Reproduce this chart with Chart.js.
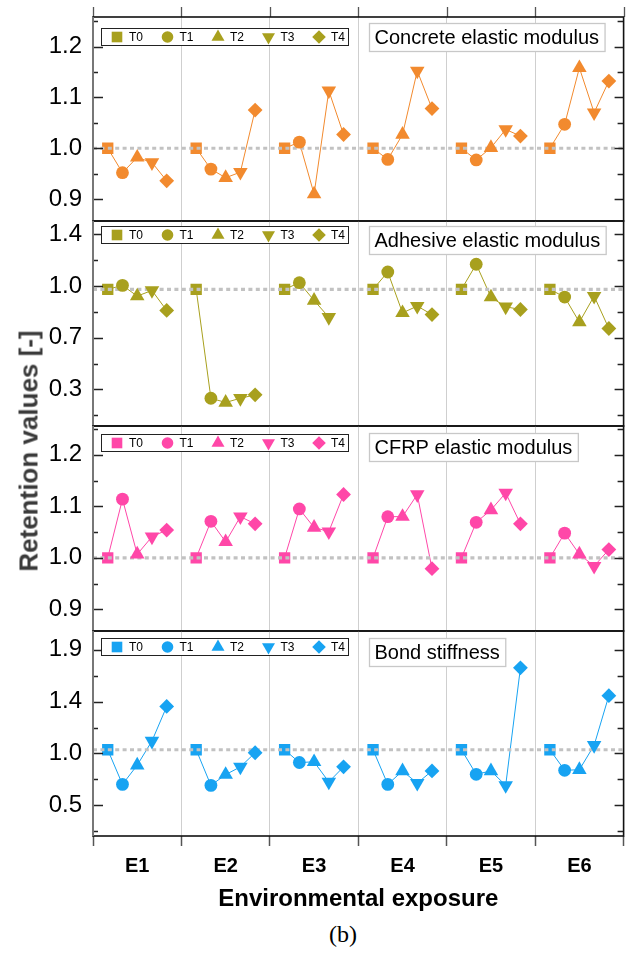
<!DOCTYPE html>
<html>
<head>
<meta charset="utf-8">
<script src="https://cdn.jsdelivr.net/npm/chart.js@4.4.1/dist/chart.umd.min.js"></script>
<style>
  body { margin: 0; background: #fff; width: 632px; height: 956px; position: relative; overflow: hidden; font-family: "Liberation Sans", Arial, sans-serif; }
  canvas { position: absolute; left: 0; }
  #ytitle { position: absolute; left: 29px; top: 451px; transform: translate(-50%, -50%) rotate(-90deg); font-weight: bold; font-size: 26px; color: #3a3a3a; white-space: nowrap; }
  #caption { position: absolute; left: 343px; top: 934px; transform: translate(-50%, -50%); font-family: "Liberation Serif", "Times New Roman", serif; font-size: 24px; color: #000; }
</style>
</head>
<body>
<canvas id="c0"></canvas>
<canvas id="c1"></canvas>
<canvas id="c2"></canvas>
<canvas id="c3"></canvas>
<div id="ytitle">Retention values [-]</div>
<div id="caption">(b)</div>
<script>
const categories = ["E1", "E2", "E3", "E4", "E5", "E6"];
const seriesNames = ["T0", "T1", "T2", "T3", "T4"];

// concrete elastic modulus (E1..E6)
const concreteT0 = [1.000, 1.000, 1.000, 1.000, 1.000, 1.000];
const concreteT1 = [0.952, 0.959, 1.012, 0.978, 0.977, 1.047];
const concreteT2 = [0.982, 0.942, 0.910, 1.027, 1.001, 1.158];
const concreteT3 = [0.972, 0.953, 1.113, 1.152, 1.037, 1.070];
const concreteT4 = [0.936, 1.075, 1.027, 1.078, 1.024, 1.132];
const concreteTicks = [0.9, 1.0, 1.1, 1.2];

// adhesive elastic modulus
const adhesiveT0 = [1.010, 1.010, 1.010, 1.010, 1.010, 1.010];
const adhesiveT1 = [1.038, 0.237, 1.057, 1.133, 1.188, 0.955];
const adhesiveT2 = [0.962, 0.207, 0.931, 0.843, 0.955, 0.777];
const adhesiveT3 = [1.002, 0.237, 0.812, 0.891, 0.886, 0.962];
const adhesiveT4 = [0.860, 0.261, null, 0.831, 0.867, 0.732];
const adhesiveTicks = [0.3, 0.6667, 1.0333, 1.4];

// CFRP elastic modulus
const cfrpT0 = [1.000, 1.000, 1.000, 1.000, 1.000, 1.000];
const cfrpT1 = [1.114, 1.071, 1.095, 1.080, 1.069, 1.048];
const cfrpT2 = [1.007, 1.031, 1.059, 1.080, 1.093, 1.007];
const cfrpT3 = [1.041, 1.080, 1.051, 1.123, 1.126, 0.984];
const cfrpT4 = [1.054, 1.066, 1.123, 0.979, 1.066, 1.016];
const cfrpTicks = [0.9, 1.0, 1.1, 1.2];

// bond stiffness
const bondT0 = [1.000, 1.000, 1.000, 1.000, 1.000, 1.000];
const bondT1 = [0.688, 0.679, 0.885, 0.688, 0.779, 0.815];
const bondT2 = [0.861, 0.776, 0.891, 0.809, 0.809, 0.820];
const bondT3 = [1.079, 0.846, 0.710, 0.699, 0.679, 1.040];
const bondT4 = [1.390, 0.973, 0.846, 0.809, 1.738, 1.487];
const bondTicks = [0.5, 0.9667, 1.4333, 1.9];

const refValues = [1.0, 1.01, 1.0, 1.0];

// x position of T0..T4 inside each group (group width = 1)
const offsets = [-2 / 6, -1 / 6, 0, 1 / 6, 2 / 6];
const xTickValues = [0.5, 1, 1.5, 2, 2.5, 3, 3.5, 4, 4.5, 5, 5.5, 6, 6.5];

const markerStyles = ["rect", "circle", "triangle", "triangle", "rectRot"];
const markerRot = [0, 0, 0, 180, 0];
const markerSize = [8, 6.4, 8.4, 8.4, 7.4];
const legendSize = [7.5, 5.8, 7.5, 7.5, 6.8];

const FONT = '"Liberation Sans", Arial, sans-serif';

const panels = [
  { id: "c0", top: 17, bottom: 221, color: "#F28A2E", legendColor: "#A8A01E", title: "Concrete elastic modulus",
    series: [concreteT0, concreteT1, concreteT2, concreteT3, concreteT4], ticks: concreteTicks, min: 0.857, max: 1.258,
    legendDy: 11, titleDy: 6, topTicks: true },
  { id: "c1", top: 221, bottom: 426, color: "#A8A01E", legendColor: "#A8A01E", title: "Adhesive elastic modulus",
    series: [adhesiveT0, adhesiveT1, adhesiveT2, adhesiveT3, adhesiveT4], ticks: adhesiveTicks, min: 0.04, max: 1.495,
    legendDy: 5, titleDy: 5, topTicks: false },
  { id: "c2", top: 426, bottom: 631, color: "#FF47A8", legendColor: "#FF47A8", title: "CFRP elastic modulus",
    series: [cfrpT0, cfrpT1, cfrpT2, cfrpT3, cfrpT4], ticks: cfrpTicks, min: 0.858, max: 1.256,
    legendDy: 8, titleDy: 7, topTicks: false },
  { id: "c3", top: 631, bottom: 836, color: "#17A3F2", legendColor: "#17A3F2", title: "Bond stiffness",
    series: [bondT0, bondT1, bondT2, bondT3, bondT4], ticks: bondTicks, min: 0.223, max: 2.07,
    legendDy: 7, titleDy: 7, topTicks: false }
];

function isBoundary(v) {
  return v !== undefined && !Number.isInteger(v);
}

function drawMarker(ctx, k, r, x, y) {
  if (Chart.helpers && Chart.helpers.drawPoint) {
    Chart.helpers.drawPoint(ctx, { pointStyle: markerStyles[k], rotation: markerRot[k], radius: r, borderWidth: 0 }, x, y);
  } else {
    ctx.beginPath(); ctx.arc(x, y, r, 0, Math.PI * 2); ctx.fill();
  }
}

const panelDeco = {
  id: "panelDeco",
  afterDraw(chart, args, o) {
    const { ctx, chartArea: a, scales: { x, y } } = chart;
    ctx.save();

    // inward ticks on the left and right edges
    const major = y.ticks.map(t => t.value);
    const step = major[1] - major[0];
    const minor = [];
    for (let v = major[0] - step / 2; v <= y.max + 1e-9; v += step) {
      if (v >= y.min) minor.push(v);
    }
    ctx.strokeStyle = "#222";
    ctx.lineWidth = 1.3;
    ctx.beginPath();
    major.forEach(v => {
      const py = Math.round(y.getPixelForValue(v)) + 0.5;
      ctx.moveTo(a.left, py); ctx.lineTo(a.left + 10, py);
      ctx.moveTo(a.right, py); ctx.lineTo(a.right - 9, py);
    });
    minor.forEach(v => {
      const py = Math.round(y.getPixelForValue(v)) + 0.5;
      ctx.moveTo(a.left, py); ctx.lineTo(a.left + 5, py);
      ctx.moveTo(a.right, py); ctx.lineTo(a.right - 6, py);
    });
    ctx.stroke();

    if (o.topTicks) {
      ctx.strokeStyle = "#555";
      ctx.beginPath();
      xTickValues.filter(isBoundary).forEach(v => {
        const px = Math.round(x.getPixelForValue(v)) + 0.5;
        ctx.moveTo(px, a.top); ctx.lineTo(px, a.top - 10);
      });
      ctx.stroke();
    }

    // frame
    ctx.strokeStyle = "#111";
    ctx.lineWidth = 1.6;
    ctx.strokeRect(a.left, a.top, a.right - a.left, a.bottom - a.top);
    ctx.strokeStyle = "#777";
    ctx.lineWidth = 2;
    ctx.beginPath(); ctx.moveTo(a.left, a.top); ctx.lineTo(a.left, a.bottom); ctx.stroke();

    // legend box
    const lx = a.left + 8, ly = a.top + o.legendDy, lw = 247, lh = 17;
    ctx.fillStyle = "#fff";
    ctx.fillRect(lx, ly, lw, lh);
    ctx.strokeStyle = "#222";
    ctx.lineWidth = 1;
    ctx.strokeRect(lx + 0.5, ly + 0.5, lw, lh);
    ctx.font = "12px " + FONT;
    ctx.textBaseline = "middle";
    ctx.textAlign = "left";
    seriesNames.forEach((name, k) => {
      const cx = lx + 16 + k * 50.5, cy = ly + lh / 2 + 0.5;
      ctx.fillStyle = o.legendColor;
      ctx.strokeStyle = o.legendColor;
      drawMarker(ctx, k, legendSize[k], cx, cy);
      ctx.fillStyle = "#000";
      ctx.fillText(name, cx + 12, cy + 0.5);
    });

    // title box
    ctx.font = "20px " + FONT;
    const tw = ctx.measureText(o.title).width;
    const tx = a.left + 276, ty = a.top + o.titleDy, th = 28;
    ctx.fillStyle = "#fff";
    ctx.fillRect(tx, ty, tw + 11, th);
    ctx.strokeStyle = "#c8c8c8";
    ctx.lineWidth = 1.3;
    ctx.strokeRect(tx + 0.5, ty + 0.5, tw + 11, th);
    ctx.fillStyle = "#000";
    ctx.fillText(o.title, tx + 5.5, ty + th / 2 + 1.5);

    ctx.restore();
  }
};

function buildChart(p, last) {
  const canvas = document.getElementById(p.id);
  const padTop = 12;
  const h = p.bottom - p.top;
  const xAxisH = last ? 82 : 0;
  const padBottom = last ? 2 : 12;
  canvas.width = 632;
  canvas.height = padTop + h + xAxisH + padBottom;
  canvas.style.top = (p.top - padTop) + "px";

  const datasets = [];
  p.series.forEach((vals, k) => {
    datasets.push({
      label: seriesNames[k],
      data: vals.map((v, g) => v === null ? null : { x: g + 1 + offsets[k], y: v }).filter(d => d),
      showLine: false,
      pointStyle: markerStyles[k],
      pointRotation: markerRot[k],
      pointRadius: markerSize[k],
      pointBackgroundColor: p.color,
      pointBorderColor: p.color,
      pointBorderWidth: 0,
      order: k === 0 ? 5 : 1
    });
  });
  datasets.push({
    label: "reference",
    data: [{ x: 0.5, y: refValues[panels.indexOf(p)] }, { x: 6.5, y: refValues[panels.indexOf(p)] }],
    showLine: true,
    borderColor: "#c2c2c2",
    borderWidth: 3.2,
    borderDash: [4, 3.4],
    pointRadius: 0,
    order: 4
  });
  categories.forEach((c, g) => {
    datasets.push({
      label: c,
      data: p.series.map((vals, k) => vals[g] === null ? null : { x: g + 1 + offsets[k], y: vals[g] }).filter(d => d),
      showLine: true,
      borderColor: p.color,
      borderWidth: 1,
      pointRadius: 0,
      order: 10
    });
  });

  return new Chart(canvas, {
    type: "scatter",
    data: { datasets },
    options: {
      responsive: false,
      animation: false,
      events: [],
      layout: { padding: { top: padTop, bottom: padBottom, left: 0, right: 4 } },
      plugins: {
        legend: { display: false },
        tooltip: { enabled: false },
        panelDeco: { title: p.title, legendColor: p.legendColor, legendDy: p.legendDy, titleDy: p.titleDy, topTicks: p.topTicks }
      },
      scales: {
        x: {
          type: "linear",
          min: 0.5,
          max: 6.5,
          afterBuildTicks: s => { s.ticks = xTickValues.map(v => ({ value: v })); },
          afterFit: s => { s.height = xAxisH; s.paddingLeft = 0; s.paddingRight = 0; },
          border: { display: false },
          grid: {
            color: c => isBoundary(c.tick && c.tick.value) ? "#cfcfcf" : "rgba(0,0,0,0)",
            lineWidth: 1,
            drawTicks: last,
            tickLength: 10,
            tickColor: c => isBoundary(c.tick && c.tick.value) ? "#555" : "rgba(0,0,0,0)",
            tickWidth: 1.5
          },
          ticks: {
            display: last,
            autoSkip: false,
            maxRotation: 0,
            padding: 8,
            color: "#000",
            font: { family: FONT, size: 20, weight: "bold" },
            callback: v => Number.isInteger(v) ? categories[v - 1] : ""
          },
          title: {
            display: last,
            text: "Environmental exposure",
            color: "#000",
            font: { family: FONT, size: 24, weight: "bold" },
            padding: { top: 0, bottom: 4 }
          }
        },
        y: {
          type: "linear",
          min: p.min,
          max: p.max,
          afterBuildTicks: s => { s.ticks = p.ticks.map(v => ({ value: v })); },
          afterFit: s => { s.width = 93; s.paddingTop = 0; s.paddingBottom = 0; },
          border: { display: false },
          grid: { display: false, drawTicks: false },
          ticks: {
            padding: 11,
            color: "#000",
            font: { family: FONT, size: 24 },
            callback: v => v.toFixed(1)
          }
        }
      }
    },
    plugins: [panelDeco]
  });
}

panels.forEach((p, i) => buildChart(p, i === panels.length - 1));
</script>
</body>
</html>
